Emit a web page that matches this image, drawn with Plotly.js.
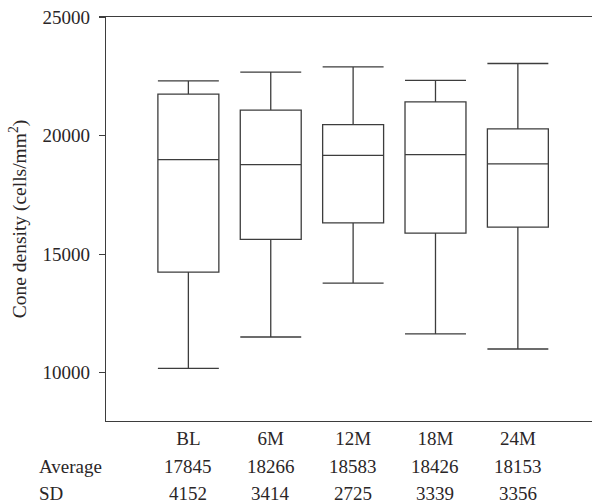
<!DOCTYPE html>
<html>
<head>
<meta charset="utf-8">
<script src="https://cdn.plot.ly/plotly-3.0.1.min.js"></script>
<style>html,body{margin:0;padding:0;background:#fff;}#chart{width:593px;height:504px;}</style>
</head>
<body>
<div id="chart"></div>
<script>
const categories = ["BL", "6M", "12M", "18M", "24M"];
const lowerWhisker = [10190, 11510, 13780, 11640, 11005];
const q1 = [14245, 15625, 16325, 15890, 16145];
const median = [18985, 18775, 19170, 19200, 18805];
const q3 = [21750, 21075, 20465, 21425, 20285];
const upperWhisker = [22310, 22680, 22900, 22325, 23040];
const average = [17845, 18266, 18583, 18426, 18153];
const sd = [4152, 3414, 2725, 3339, 3356];
const rowLabels = ["Average", "SD"];

const textColor = "#2a2627";
const lineColor = "#3d3d3d";
const fontFam = "Liberation Serif, Times New Roman, serif";
const fs = 19;

const trace = {
  type: "box",
  x: categories,
  q1: q1,
  median: median,
  q3: q3,
  lowerfence: lowerWhisker,
  upperfence: upperWhisker,
  width: 0.74,
  whiskerwidth: 1,
  fillcolor: "#ffffff",
  line: {color: lineColor, width: 1.3},
  boxpoints: false,
  showlegend: false
};

const annotations = [];
const rows = [average, sd];
const rowY = [-0.112, -0.18];
rows.forEach((vals, r) => {
  annotations.push({
    xref: "paper", yref: "paper", x: -0.141, y: rowY[r],
    xanchor: "left", yanchor: "middle", showarrow: false,
    text: rowLabels[r], font: {family: fontFam, size: fs, color: textColor}
  });
  vals.forEach((v, i) => {
    annotations.push({
      xref: "x", yref: "paper", x: categories[i], y: rowY[r],
      xanchor: "center", yanchor: "middle", showarrow: false,
      text: String(v), font: {family: fontFam, size: fs, color: textColor}
    });
  });
});

const layout = {
  width: 593, height: 504,
  margin: {l: 106, r: 1, t: 17, b: 83},
  paper_bgcolor: "#ffffff", plot_bgcolor: "#ffffff",
  font: {family: fontFam, size: fs, color: textColor},
  xaxis: {
    type: "category",
    categoryorder: "array", categoryarray: categories,
    range: [-1, 4.9],
    showline: true, linecolor: lineColor, linewidth: 1.2, mirror: true,
    showgrid: false, zeroline: false, ticks: "",
    tickfont: {family: fontFam, size: fs, color: textColor}
  },
  yaxis: {
    range: [7970, 25000],
    tickvals: [10000, 15000, 20000, 25000],
    ticktext: ["10000", "15000", "20000", "25000"],
    showline: true, linecolor: lineColor, linewidth: 1.2,
    ticks: "outside", ticklen: 6, tickcolor: lineColor, tickwidth: 1.2,
    ticklabelstandoff: 5,
    showgrid: false, zeroline: false,
    tickfont: {family: fontFam, size: fs, color: textColor},
    title: {text: "Cone density (cells/mm<sup>2</sup>)", font: {family: fontFam, size: 19.5, color: textColor}, standoff: 10}
  },
  annotations: annotations,
  showlegend: false
};

Plotly.newPlot("chart", [trace], layout, {displayModeBar: false, staticPlot: true});
</script>
</body>
</html>
